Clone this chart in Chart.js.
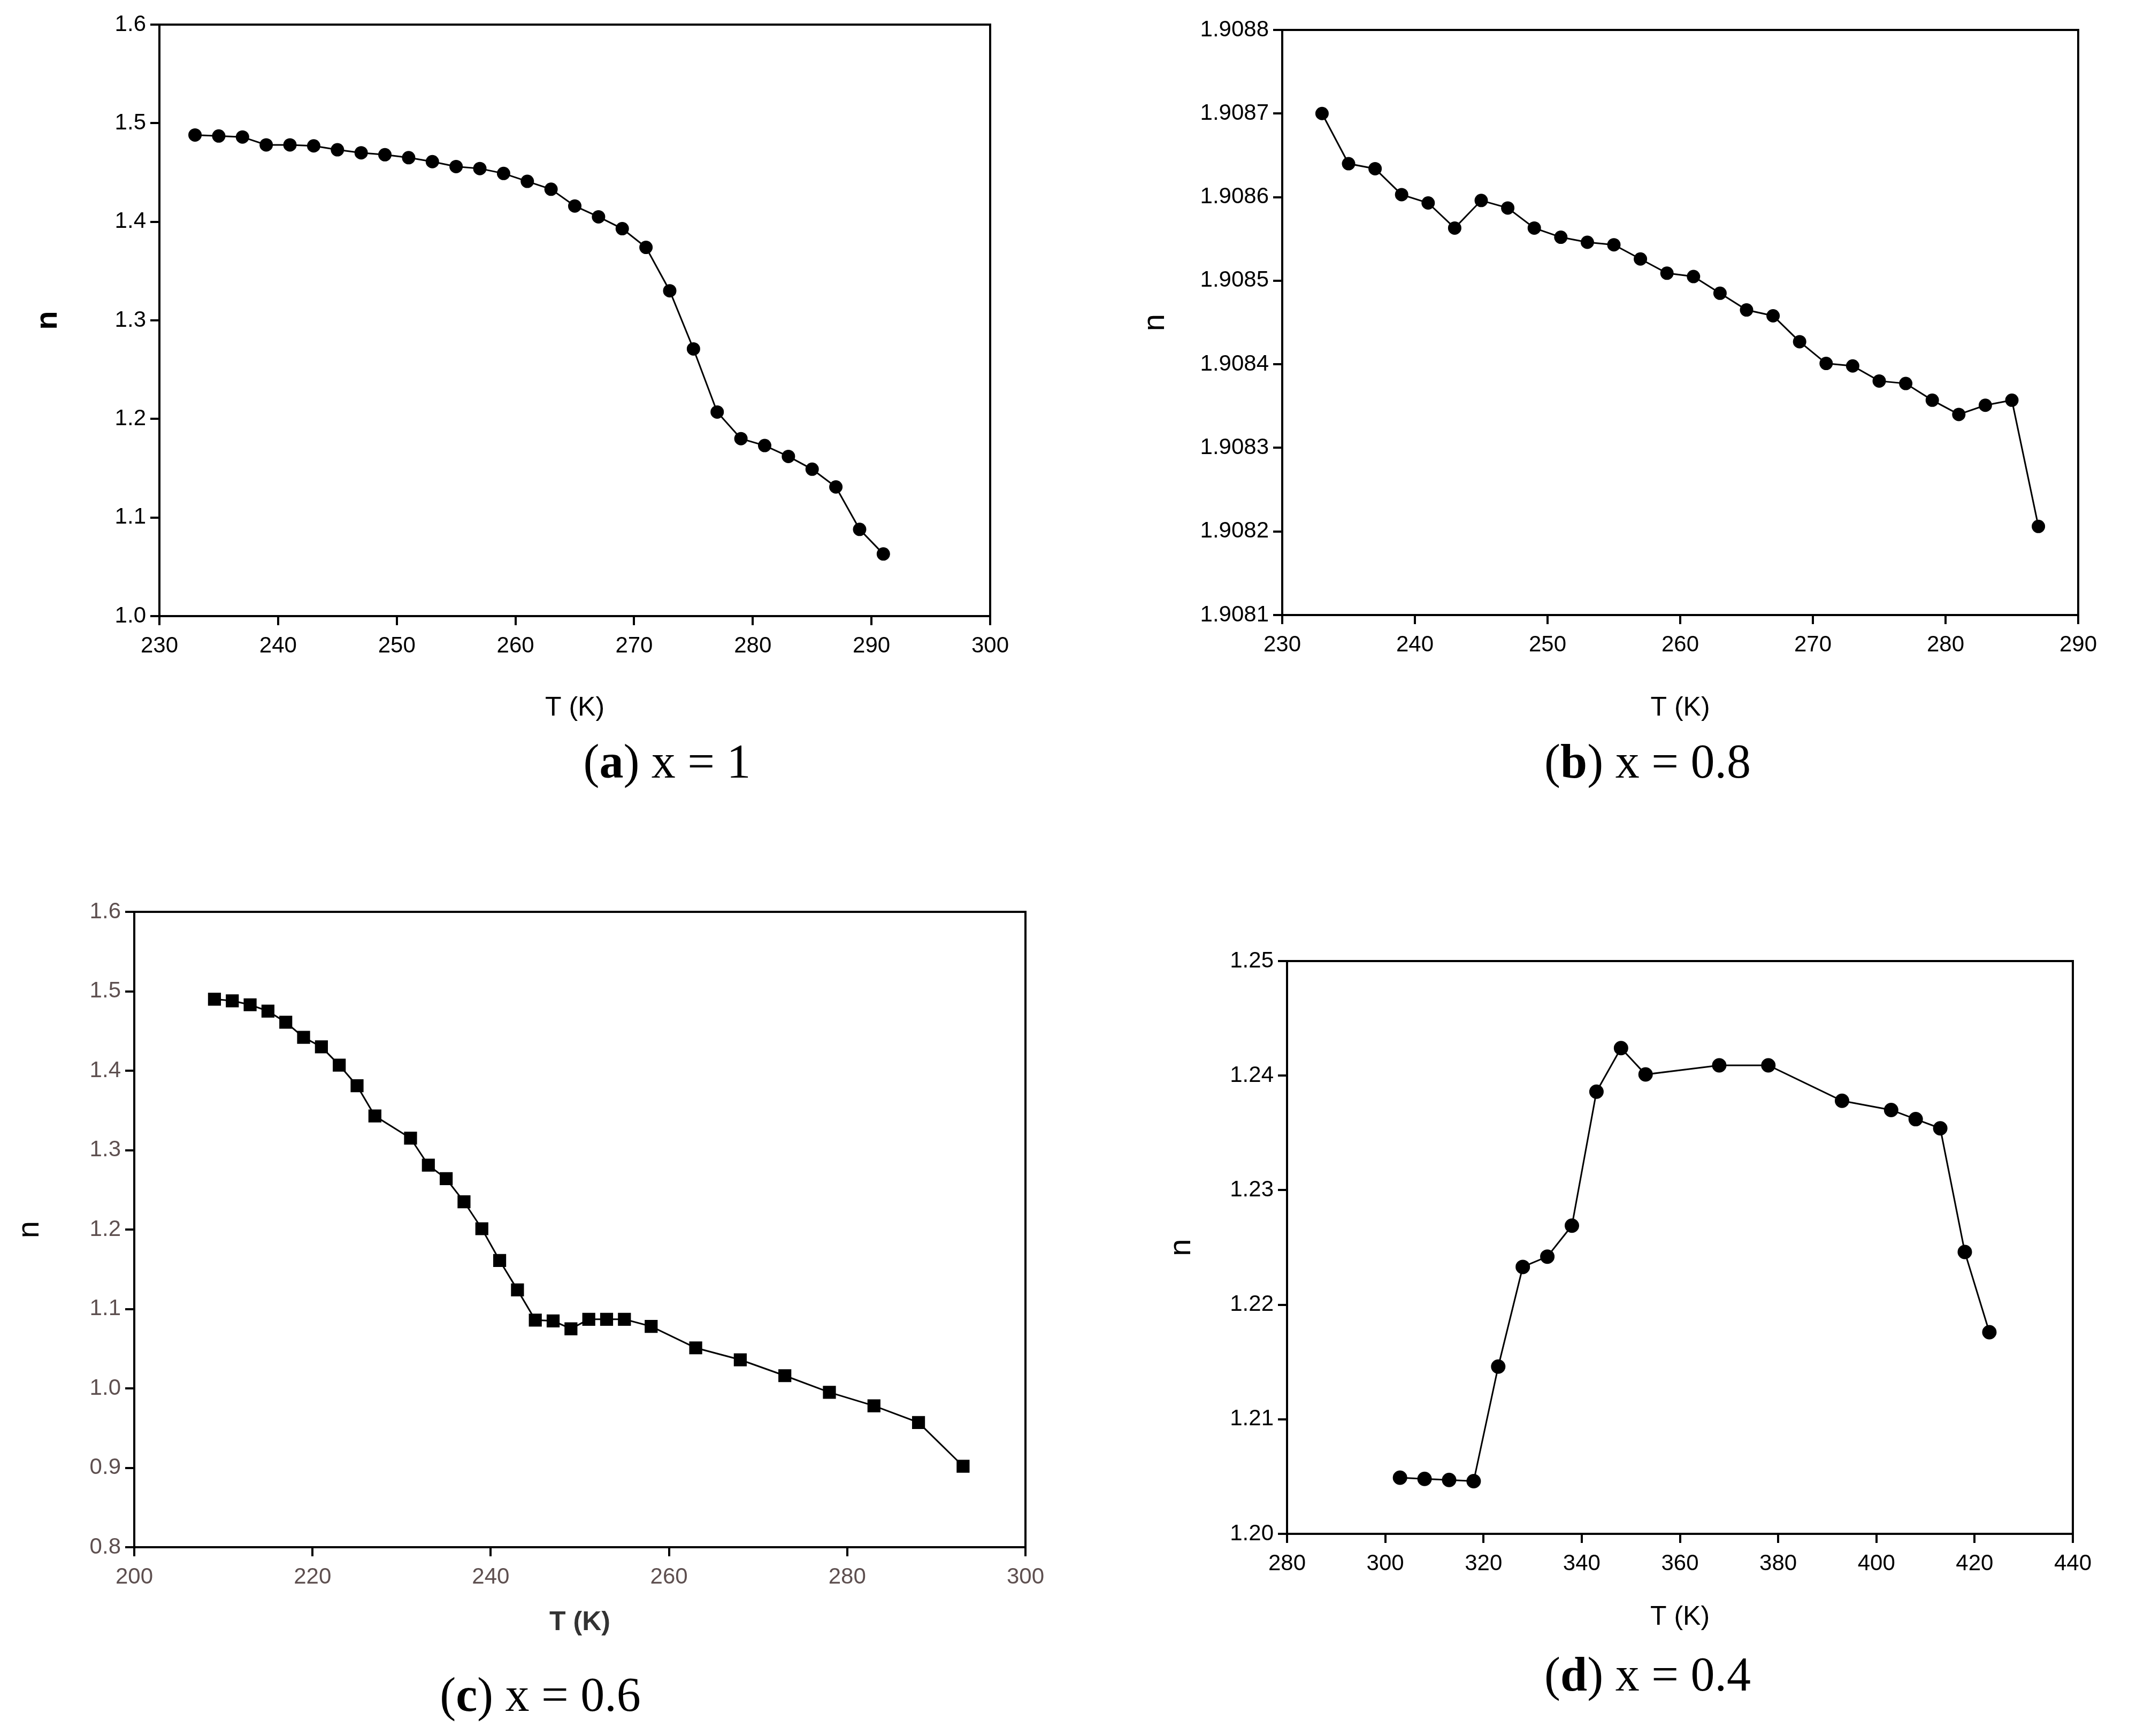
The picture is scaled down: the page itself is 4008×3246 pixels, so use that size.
<!DOCTYPE html>
<html>
<head>
<meta charset="utf-8">
<script src="https://cdn.jsdelivr.net/npm/chart.js@4.4.1/dist/chart.umd.min.js"></script>
<style>
  html, body { margin: 0; padding: 0; background: #fff; }
  body { width: 4008px; height: 3246px; position: relative; overflow: hidden; }
  canvas { position: absolute; }
  .cap { position: absolute; width: 900px; text-align: center; font-family: 'Liberation Serif', 'Times New Roman', serif; font-size: 90px; line-height: 90px; color: #000; }
</style>
</head>
<body>
<canvas id="chartA"></canvas>
<canvas id="chartB"></canvas>
<canvas id="chartC"></canvas>
<canvas id="chartD"></canvas>
<div class="cap" id="capA">(<b>a</b>) x = 1</div>
<div class="cap" id="capB">(<b>b</b>) x = 0.8</div>
<div class="cap" id="capC">(<b>c</b>) x = 0.6</div>
<div class="cap" id="capD">(<b>d</b>) x = 0.4</div>
<script>
// (a) x = 1
const tA = [233, 235, 237, 239, 241, 243, 245, 247, 249, 251, 253, 255, 257, 259, 261,
            263, 265, 267, 269, 271, 273, 275, 277, 279, 281, 283, 285, 287, 289, 291];
const nA = [1.488, 1.487, 1.486, 1.478, 1.478, 1.477, 1.473, 1.470, 1.468, 1.465, 1.461, 1.456, 1.454, 1.449, 1.441,
            1.433, 1.416, 1.405, 1.393, 1.374, 1.330, 1.271, 1.207, 1.180, 1.173, 1.162, 1.149, 1.131, 1.088, 1.063];

// (b) x = 0.8
const tB = [233, 235, 237, 239, 241, 243, 245, 247, 249, 251, 253, 255, 257, 259,
            261, 263, 265, 267, 269, 271, 273, 275, 277, 279, 281, 283, 285, 287];
const nB = [1.90870, 1.908640, 1.908634, 1.908603, 1.908593, 1.908563, 1.908596, 1.908587, 1.908563, 1.908552,
            1.908546, 1.908543, 1.908526, 1.908509, 1.908505, 1.908485, 1.908465, 1.908458, 1.908427, 1.908401,
            1.908398, 1.908380, 1.908377, 1.908357, 1.908340, 1.908351, 1.908357, 1.908206];

// (c) x = 0.6
const tC = [209, 211, 213, 215, 217, 219, 221, 223, 225, 227, 231, 233, 235, 237, 239, 241,
            243, 245, 247, 249, 251, 253, 255, 258, 263, 268, 273, 278, 283, 288, 293];
const nC = [1.490, 1.488, 1.483, 1.475, 1.461, 1.442, 1.430, 1.407, 1.381, 1.343, 1.315, 1.281, 1.264, 1.235, 1.201, 1.161,
            1.124, 1.086, 1.085, 1.075, 1.087, 1.087, 1.087, 1.078, 1.051, 1.036, 1.016, 0.995, 0.978, 0.957, 0.902];

// (d) x = 0.4
const tD = [303, 308, 313, 318, 323, 328, 333, 338, 343, 348, 353, 368, 378, 393, 403, 408, 413, 418, 423];
const nD = [1.2049, 1.2048, 1.2047, 1.2046, 1.2146, 1.2233, 1.2242, 1.2269, 1.2386, 1.2424,
            1.2401, 1.2409, 1.2409, 1.2378, 1.2370, 1.2362, 1.2354, 1.2246, 1.2176];

const framePlugin = {
  id: 'frame',
  afterDraw(chart) {
    const { ctx, chartArea: a } = chart;
    ctx.save();
    ctx.strokeStyle = '#000';
    ctx.lineWidth = 4;
    ctx.strokeRect(a.left, a.top, a.right - a.left, a.bottom - a.top);
    ctx.restore();
  }
};

function makePanel(id, xs, ys, p) {
  const padT = 40, padR = 80;
  const canvas = document.getElementById(id);
  const w = (p.R - p.L) + p.YW + padR;
  const h = (p.B - p.T) + padT + p.XH;
  canvas.width = w;
  canvas.height = h;
  canvas.style.left = (p.L - p.YW) + 'px';
  canvas.style.top = (p.T - padT) + 'px';
  canvas.style.width = w + 'px';
  canvas.style.height = h + 'px';

  const tickFont = { family: "'Liberation Sans', Arial, sans-serif", size: p.tickSize || 42 };

  new Chart(canvas, {
    type: 'line',
    data: {
      datasets: [{
        data: xs.map((x, i) => ({ x: x, y: ys[i] })),
        borderColor: '#000',
        backgroundColor: '#000',
        borderWidth: p.lineW || 3,
        pointStyle: p.marker || 'circle',
        pointRadius: p.radius || 11,
        pointBackgroundColor: '#000',
        pointBorderColor: '#000',
        tension: 0
      }]
    },
    options: {
      responsive: false,
      animation: false,
      devicePixelRatio: 1,
      layout: { autoPadding: false, padding: { left: 0, right: padR, top: padT, bottom: 0 } },
      plugins: { legend: { display: false }, tooltip: { enabled: false } },
      scales: {
        x: {
          type: 'linear',
          min: p.xMin, max: p.xMax,
          afterFit: (s) => { s.height = p.XH; },
          border: { display: true, color: '#000', width: 4 },
          grid: { drawOnChartArea: false, drawTicks: true, tickLength: 17, color: '#000', lineWidth: 4 },
          ticks: { stepSize: p.xStep, color: p.tickColor || '#000', font: tickFont, padding: 14, maxRotation: 0,
                   callback: (v) => v.toFixed(0) },
          title: { display: true, text: 'T (K)', color: p.titleColor || '#000',
                   font: { family: "'Liberation Sans', Arial, sans-serif", size: 50, weight: p.titleBold ? 'bold' : 'normal', lineHeight: 1.2 },
                   padding: { top: 0, bottom: 0 } }
        },
        y: {
          type: 'linear',
          min: p.yMin, max: p.yMax,
          afterFit: (s) => { s.width = p.YW; },
          border: { display: true, color: '#000', width: 4 },
          grid: { drawOnChartArea: false, drawTicks: true, tickLength: 17, color: '#000', lineWidth: 4 },
          ticks: { stepSize: p.yStep, color: p.tickColor || '#000', font: tickFont, padding: 8,
                   callback: (v) => v.toFixed(p.yDec) },
          title: { display: true, text: 'n', color: '#000',
                   font: { family: "'Liberation Sans', Arial, sans-serif", size: 58, weight: p.nBold ? 'bold' : 'normal', lineHeight: 1.2 },
                   padding: { top: 0, bottom: 0 } }
        }
      }
    },
    plugins: [framePlugin]
  });
}

makePanel('chartA', tA, nA, { L: 298, R: 1851, T: 46, B: 1152, YW: 243, XH: 202,
  xMin: 230, xMax: 300, xStep: 10, yMin: 1.0, yMax: 1.6, yStep: 0.1, yDec: 1, nBold: true });
makePanel('chartB', tB, nB, { L: 2397, R: 3885, T: 56, B: 1150, YW: 272, XH: 204,
  xMin: 230, xMax: 290, xStep: 10, yMin: 1.9081, yMax: 1.9088, yStep: 0.0001, yDec: 4 });
makePanel('chartC', tC, nC, { L: 251, R: 1917, T: 1705, B: 2893, YW: 230, XH: 171,
  xMin: 200, xMax: 300, xStep: 20, yMin: 0.8, yMax: 1.6, yStep: 0.1, yDec: 1,
  marker: 'rect', radius: 15, lineW: 3, tickColor: '#5e5050', titleColor: '#333', titleBold: true });
makePanel('chartD', tD, nD, { L: 2406, R: 3875, T: 1797, B: 2868, YW: 232, XH: 186,
  xMin: 280, xMax: 440, xStep: 20, yMin: 1.20, yMax: 1.25, yStep: 0.01, yDec: 2, radius: 12 });

function placeCap(id, cx, cy) {
  const el = document.getElementById(id);
  el.style.left = (cx - 450) + 'px';
  el.style.top = (cy - 45) + 'px';
}
placeCap('capA', 1247, 1424);
placeCap('capB', 3080, 1424);
placeCap('capC', 1010, 3169);
placeCap('capD', 3080, 3131);
</script>
</body>
</html>
